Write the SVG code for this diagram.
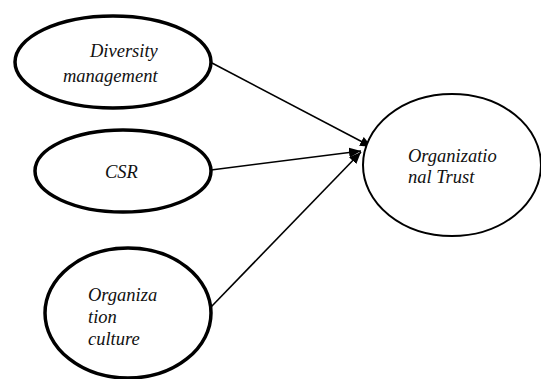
<svg xmlns="http://www.w3.org/2000/svg" width="541" height="379" viewBox="0 0 541 379">
<style>
.src{fill:#fff;stroke:#000;stroke-width:3.5}
.tgt{fill:#fff;stroke:#000;stroke-width:2}
.lbl{font-family:"Liberation Serif","Times New Roman",serif;font-style:italic;font-size:18.5px;fill:#111}
.conn{stroke:#000;stroke-width:1.6;fill:none}
</style>
<defs>
<marker id="ah" viewBox="0 0 12 10" refX="12" refY="5" markerWidth="12" markerHeight="10" markerUnits="userSpaceOnUse" orient="auto">
<path d="M0,0 L12,5 L0,10 Z" fill="#000"/>
</marker>
</defs>
<rect width="541" height="379" fill="#fff"/>
<g id="connectors">
<line class="conn" x1="212" y1="63" x2="372" y2="147" marker-end="url(#ah)"/>
<line class="conn" x1="211" y1="170" x2="361" y2="151" marker-end="url(#ah)"/>
<line class="conn" x1="211" y1="307" x2="361" y2="152" marker-end="url(#ah)"/>
</g>
<g id="diversity">
<ellipse class="src" cx="113" cy="62" rx="98" ry="46"/>
<text class="lbl" x="90" y="57">Diversity</text>
<text class="lbl" x="63" y="82">management</text>
</g>
<g id="csr">
<ellipse class="src" cx="123" cy="171" rx="88" ry="41"/>
<text class="lbl" x="105" y="178">CSR</text>
</g>
<g id="culture">
<ellipse class="src" cx="128" cy="313" rx="83" ry="65"/>
<text class="lbl" x="88" y="301">Organiza</text>
<text class="lbl" x="88" y="323">tion</text>
<text class="lbl" x="88" y="345">culture</text>
</g>
<g id="trust">
<ellipse class="tgt" cx="452" cy="165" rx="89" ry="71"/>
<text class="lbl" x="408" y="162">Organizatio</text>
<text class="lbl" x="408" y="183">nal Trust</text>
</g>
</svg>
